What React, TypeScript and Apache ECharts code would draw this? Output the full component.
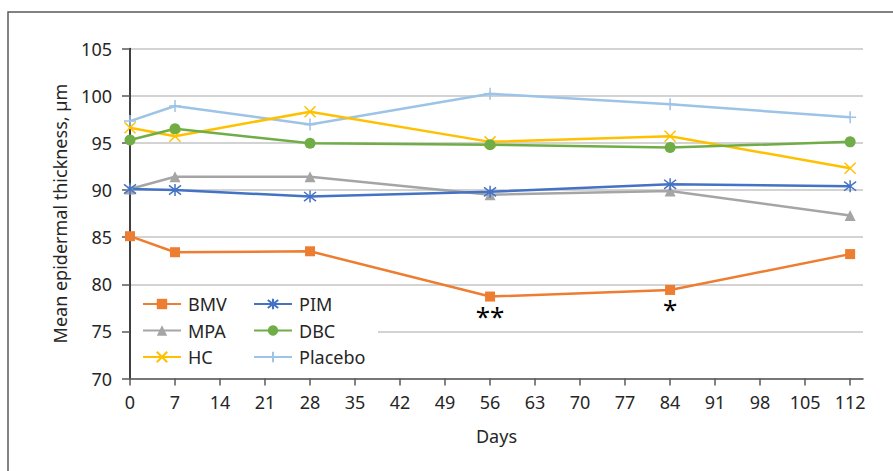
import React, { useEffect, useRef } from "react";
import * as echarts from "echarts";

const days = [0, 7, 28, 56, 84, 112];
const bmv = [85.1, 83.4, 83.5, 78.7, 79.4, 83.2];
const pim = [90.1, 90.0, 89.3, 89.8, 90.6, 90.4];
const mpa = [90.1, 91.4, 91.4, 89.5, 89.9, 87.3];
const dbc = [95.3, 96.5, 94.95, 94.8, 94.5, 95.1];
const hc = [96.6, 95.7, 98.3, 95.1, 95.7, 92.3];
const placebo = [97.3, 98.9, 96.95, 100.2, 99.1, 97.7];
const tickDays = [0, 7, 14, 21, 28, 35, 42, 49, 56, 63, 70, 77, 84, 91, 98, 105, 112];
const annotations = [
  { day: 56, value: 78.7, text: "**" },
  { day: 84, value: 79.4, text: "*" },
];

const FONT = "'Noto Sans', 'Open Sans', sans-serif";
const TEXT = "#262626";

const X_PATH = "path://M0,0L10,10M10,0L0,10";
const STAR_PATH = "path://M5,0L5,10M1.2,1.2L8.8,8.8M8.8,1.2L1.2,8.8";
const PLUS_PATH = "path://M5,0L5,10M0,5L10,5";

function mk(name: string, vals: number[], color: string, symbol: string, size: number, stroke?: boolean, extra?: any) {
  return {
    name,
    type: "line",
    data: days.map((d, i) => [d, vals[i]]),
    symbol,
    symbolSize: size,
    showAllSymbol: true,
    lineStyle: { color, width: 2.5 },
    itemStyle: stroke
      ? { color, borderColor: color, borderWidth: 1.5 }
      : { color, borderWidth: 0 },
    emphasis: { disabled: true },
    ...(extra || {}),
  };
}

export default function App() {
  const ref = useRef<HTMLDivElement>(null);
  useEffect(() => {
    document.body.style.margin = "0";
    const chart = echarts.init(ref.current!, null, { renderer: "svg" });
    const legendCommon = {
      orient: "vertical",
      itemWidth: 38,
      itemHeight: 13,
      itemGap: 8.5,
      padding: 0,
      textStyle: { fontFamily: FONT, fontSize: 18, color: TEXT, padding: [0, 0, 0, 2] },
      selectedMode: false,
    };
    chart.setOption({
      animation: false,
      textStyle: { fontFamily: FONT },
      grid: { left: 130, right: 30, top: 48.5, bottom: 92.4 },
      graphic: [
        {
          type: "rect",
          z: -10,
          shape: { x: 8, y: 12, width: 1200, height: 1000 },
          style: { fill: "none", stroke: "#595959", lineWidth: 1.5 },
        },
        {
          type: "rect",
          z: 1,
          shape: { x: 131, y: 288, width: 247, height: 89 },
          style: { fill: "#fff" },
        },
      ],
      xAxis: {
        type: "value",
        min: 0,
        max: 114,
        interval: 7,
        name: "Days",
        nameLocation: "middle",
        nameGap: 48,
        nameTextStyle: { fontFamily: FONT, fontSize: 18, color: TEXT },
        axisLine: { show: true, onZero: false, lineStyle: { color: "#595959", width: 1.5 } },
        axisTick: { show: true, length: 7, customValues: tickDays, lineStyle: { color: "#595959", width: 1.5 } },
        axisLabel: { customValues: tickDays, margin: 14, fontFamily: FONT, fontSize: 18, color: TEXT },
        splitLine: { show: false },
      },
      yAxis: {
        type: "value",
        min: 70,
        max: 105,
        interval: 5,
        name: "Mean epidermal thickness, µm",
        nameLocation: "middle",
        nameGap: 61,
        nameTextStyle: { fontFamily: FONT, fontSize: 18, color: TEXT },
        axisLine: { show: true, lineStyle: { color: "#000", width: 1.5 } },
        axisTick: { show: true, length: 8, lineStyle: { color: "#595959", width: 1.5 } },
        axisLabel: { margin: 18, fontFamily: FONT, fontSize: 18, color: TEXT },
        splitLine: { show: true, lineStyle: { color: "#C4C4C4", width: 1.5 } },
      },
      legend: [
        { ...legendCommon, left: 142, top: 295, data: ["BMV", "MPA", "HC"] },
        { ...legendCommon, left: 253, top: 295, data: ["PIM", "DBC", "Placebo"] },
      ],
      series: [
        mk("Placebo", placebo, "#9DC3E6", PLUS_PATH, 12, true),
        mk("HC", hc, "#FFC000", X_PATH, 11, true),
        mk("DBC", dbc, "#70AD47", "circle", 11),
        mk("MPA", mpa, "#A5A5A5", "triangle", 11),
        mk("PIM", pim, "#4472C4", STAR_PATH, 12, true),
        mk("BMV", bmv, "#ED7D31", "rect", 10, false, {
          markPoint: {
            symbol: "circle",
            symbolSize: 1,
            itemStyle: { color: "rgba(0,0,0,0)" },
            label: {
              show: true,
              position: "bottom",
              distance: 6,
              formatter: "{b}",
              fontFamily: FONT,
              fontSize: 26,
              color: "#000",
            },
            data: annotations.map((a) => ({ name: a.text, coord: [a.day, a.value] })),
          },
        }),
      ],
    });
    return () => chart.dispose();
  }, []);
  return <div ref={ref} style={{ width: 893, height: 471 }} />;
}
